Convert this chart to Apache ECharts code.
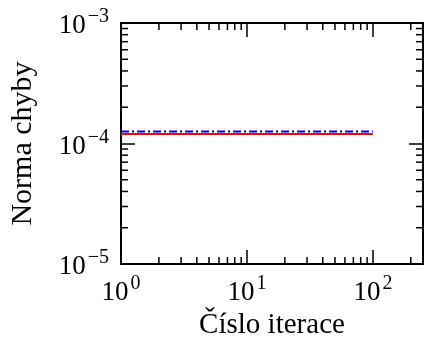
<!DOCTYPE html>
<html>
<head>
<meta charset="utf-8">
<script src="https://cdn.jsdelivr.net/npm/echarts@6/dist/echarts.min.js"></script>
<style>
  html, body { margin: 0; padding: 0; background: #fff; }
  #chart { width: 424px; height: 339px; }
</style>
</head>
<body>
<div id="chart"></div>
<script>
// iteration range where both series are drawn
const iterations = [1, 100]
const redValues = [1.2e-4, 1.2e-4]
const blueValues = [1.26e-4, 1.26e-4]

const xRange = [1, 250]
const yRange = [1e-5, 1e-3]

// minor ticks (2..9 per decade)
const xMinor = [2, 3, 4, 5, 6, 7, 8, 9, 20, 30, 40, 50, 60, 70, 80, 90, 200]
const yMinor = [2e-5, 3e-5, 4e-5, 5e-5, 6e-5, 7e-5, 8e-5, 9e-5,
  2e-4, 3e-4, 4e-4, 5e-4, 6e-4, 7e-4, 8e-4, 9e-4]

const FONT = 'Liberation Serif'
const MAJOR = 14
const MINOR = 7

function powLabel(v) {
  const e = Math.round(Math.log10(v))
  const s = e < 0 ? '\u2212' + (-e) : String(e)
  return '{b|10}{s|' + s + '}'
}

const richSup = {
  b: { fontFamily: FONT, fontSize: 27, color: '#000', padding: [6, 0, 0, 0] },
  s: { fontFamily: FONT, fontSize: 20, color: '#000', padding: [0, 0, 12, 2] },
}

function axisCommon(show) {
  return {
    type: 'log',
    logBase: 10,
    axisLine: { show: true, lineStyle: { color: '#000', width: 2 } },
    axisTick: { show: true, inside: true, length: MAJOR, lineStyle: { color: '#000', width: 1.5 } },
    splitLine: { show: false },
    minorTick: { show: false },
    axisLabel: show
      ? { show: true, formatter: powLabel, rich: richSup }
      : { show: false },
  }
}

const chart = echarts.init(document.getElementById('chart'), null, { renderer: 'canvas' })

function minorTickItem(params, api) {
  const axis = api.value(2)
  const v = api.value(0)
  const w = api.value(1)
  const style = { stroke: '#000', lineWidth: 1.5 }
  if (axis === 0) {
    const b = api.coord([v, yRange[0]])
    const t = api.coord([v, yRange[1]])
    return {
      type: 'group',
      children: [
        { type: 'line', shape: { x1: b[0], y1: b[1], x2: b[0], y2: b[1] - MINOR }, style },
        { type: 'line', shape: { x1: t[0], y1: t[1], x2: t[0], y2: t[1] + MINOR }, style },
      ],
    }
  }
  const l = api.coord([xRange[0], w])
  const r = api.coord([xRange[1], w])
  return {
    type: 'group',
    children: [
      { type: 'line', shape: { x1: l[0], y1: l[1], x2: l[0] + MINOR, y2: l[1] }, style },
      { type: 'line', shape: { x1: r[0], y1: r[1], x2: r[0] - MINOR, y2: r[1] }, style },
    ],
  }
}

const minorData = xMinor.map((v) => [v, yRange[0], 0])
  .concat(yMinor.map((v) => [xRange[0], v, 1]))

chart.setOption({
  animation: false,
  grid: { left: 121, right: 1, top: 23, bottom: 75, outerBoundsMode: 'none', containLabel: false },
  xAxis: [
    {
      ...axisCommon(true),
      min: xRange[0], max: xRange[1],
      name: 'Číslo iterace',
      nameLocation: 'middle',
      nameGap: 46,
      nameTextStyle: { fontFamily: FONT, fontSize: 29, color: '#000' },
      axisLabel: { show: true, formatter: powLabel, rich: richSup, margin: 9, showMaxLabel: false },
    },
    { ...axisCommon(false), min: xRange[0], max: xRange[1], position: 'top' },
  ],
  yAxis: [
    {
      ...axisCommon(true),
      min: yRange[0], max: yRange[1],
      name: 'Norma chyby',
      nameLocation: 'middle',
      nameGap: 83,
      nameTextStyle: { fontFamily: FONT, fontSize: 30, color: '#000' },
      axisLabel: { show: true, formatter: powLabel, rich: richSup, margin: 12 },
    },
    { ...axisCommon(false), min: yRange[0], max: yRange[1], position: 'right' },
  ],
  series: [
    {
      type: 'custom',
      renderItem: minorTickItem,
      data: minorData,
      clip: false,
      silent: true,
      z: 10,
    },
    {
      name: 'red',
      type: 'line',
      data: iterations.map((x, i) => [x, redValues[i]]),
      showSymbol: false,
      lineStyle: { color: '#ff0000', width: 2 },
      z: 3,
    },
    {
      name: 'blue',
      type: 'line',
      data: iterations.map((x, i) => [x, blueValues[i]]),
      showSymbol: false,
      lineStyle: { color: '#0000ff', width: 2, type: [8, 3, 2, 3] },
      z: 4,
    },
  ],
})
</script>
</body>
</html>
